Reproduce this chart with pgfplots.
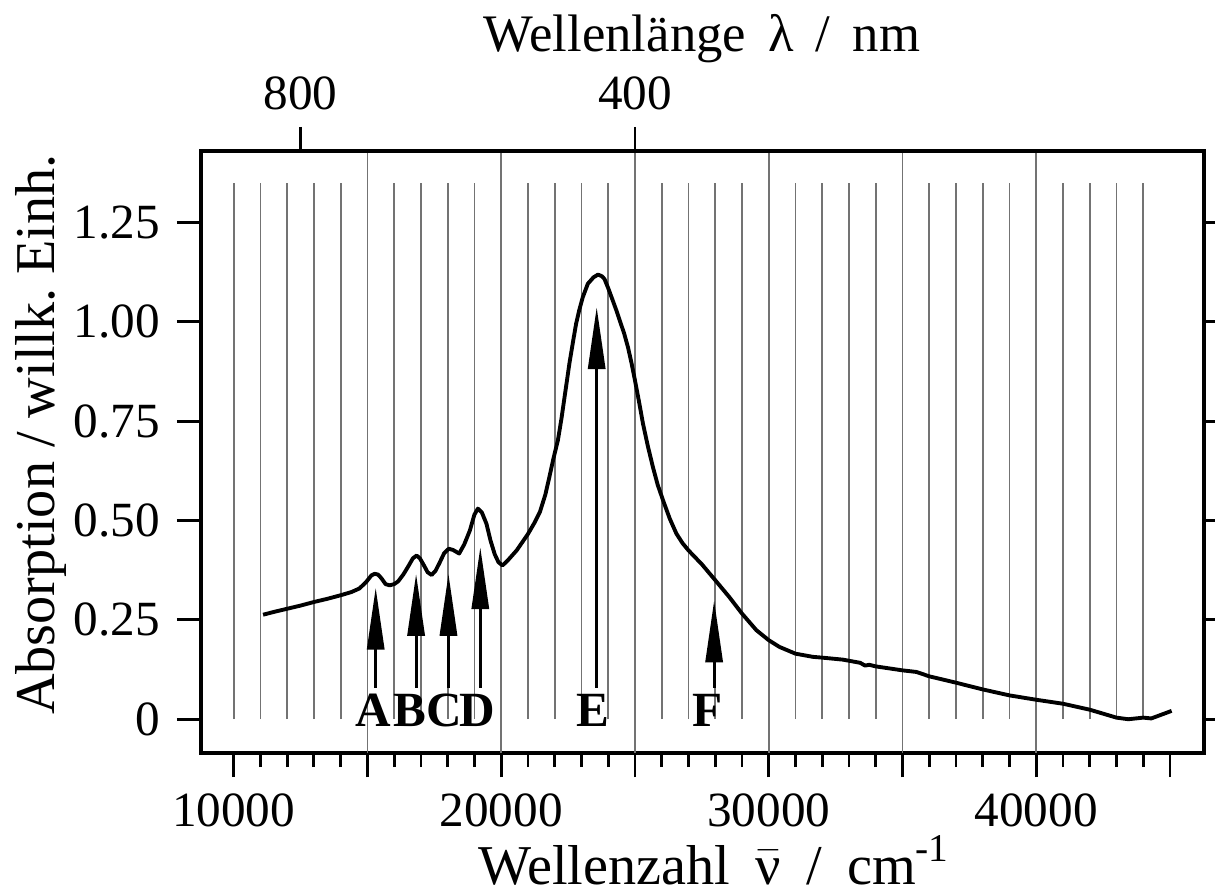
\documentclass[border=0pt]{standalone}
\usepackage{fontspec}
\setmainfont{Liberation Serif}
\usepackage{amsmath}
\usepackage{pgfplots}
\pgfplotsset{compat=1.18}
\usetikzlibrary{arrows.meta}

\pgfplotsset{
  common/.style={
    scale only axis, width=10.03cm, height=6.02cm,
    xmin=8780, xmax=46270, ymin=-0.085, ymax=1.43,
    scaled x ticks=false, scaled y ticks=false,
    tick align=outside,
    axis line style={line width=1.1pt},
    /pgf/number format/assume math mode=true,
    major tick length=0.24cm, minor tick length=0.14cm,
    tick style={line width=0.8pt, black},
  },
}
\newcommand{\gap}{\hspace{0.45em}}

\begin{document}
\fontsize{14}{17}\selectfont
\begin{tikzpicture}
\useasboundingbox (-2.01cm,-1.38cm) rectangle (10.14cm,7.53cm);
\begin{axis}[common,
  xtick={10000,15000,...,45000},
  xticklabels={10000,,20000,,30000,,40000,},
  minor xtick={11000,12000,13000,14000,16000,17000,18000,19000,21000,22000,23000,24000,
               26000,27000,28000,29000,31000,32000,33000,34000,36000,37000,38000,39000,
               41000,42000,43000,44000},
  xtick pos=left, ytick pos=both, yticklabel pos=left,
  ytick={0,0.25,0.5,0.75,1,1.25},
  yticklabels={0,0.25,0.50,0.75,1.00,1.25},
  extra x ticks={15000,20000,25000,30000,35000,40000},
  extra x tick labels={},
  extra x tick style={grid=major},
  major grid style={black!55, line width=0.5pt},
  xlabel={Wellenzahl\gap$\bar{\text{ν}}$\gap/\gap cm\textsuperscript{-1}},
  ylabel={Absorption\ /\ willk.\ Einh.},
  xlabel style={at={(axis description cs:0.512,-0.2176)}, anchor=base, inner sep=0pt,
    font=\fontsize{16}{19}\selectfont},
  ylabel style={at={(axis description cs:-0.1456,0.529)}, anchor=base, inner sep=0pt,
    font=\fontsize{16}{19}\selectfont},
]
% kurze Gitterlinien (0 bis 1.35)
\addplot[ycomb, black!55, line width=0.5pt] coordinates {
  (10000,1.35) (11000,1.35) (12000,1.35) (13000,1.35) (14000,1.35)
  (16000,1.35) (17000,1.35) (18000,1.35) (19000,1.35)
  (21000,1.35) (22000,1.35) (23000,1.35) (24000,1.35)
  (26000,1.35) (27000,1.35) (28000,1.35) (29000,1.35)
  (31000,1.35) (32000,1.35) (33000,1.35) (34000,1.35)
  (36000,1.35) (37000,1.35) (38000,1.35) (39000,1.35)
  (41000,1.35) (42000,1.35) (43000,1.35) (44000,1.35)
};
% Spektrum
\addplot[black, line width=1.1pt, line join=round] coordinates {
  (11100,0.263) (11500,0.270) (12000,0.278) (12500,0.286) (13000,0.295)
  (13500,0.303) (14000,0.312) (14400,0.320) (14700,0.329) (14950,0.345)
  (15150,0.362) (15270,0.366) (15400,0.364) (15520,0.355) (15680,0.340)
  (15830,0.337) (16000,0.340) (16150,0.347) (16350,0.365) (16530,0.385)
  (16700,0.405) (16840,0.412) (16960,0.405) (17090,0.390) (17250,0.370)
  (17400,0.363) (17550,0.374) (17700,0.394) (17870,0.418) (18040,0.429)
  (18200,0.426) (18430,0.417) (18620,0.440) (18830,0.475) (19000,0.515)
  (19130,0.530) (19280,0.520) (19450,0.492) (19600,0.450) (19760,0.415)
  (19900,0.395) (20050,0.387) (20250,0.400) (20580,0.425) (21000,0.466)
  (21250,0.495) (21450,0.522) (21650,0.565) (21800,0.609) (21950,0.655)
  (22120,0.702) (22250,0.755) (22370,0.811) (22550,0.895) (22680,0.948)
  (22800,0.995) (22920,1.030) (23050,1.062) (23240,1.096) (23450,1.112)
  (23620,1.119) (23760,1.115) (23860,1.108) (24000,1.085) (24170,1.054)
  (24300,1.030) (24430,1.004) (24600,0.970) (24740,0.936) (24870,0.897)
  (25000,0.853) (25150,0.800) (25300,0.744) (25480,0.688) (25670,0.635)
  (25850,0.590) (26050,0.551) (26300,0.505) (26550,0.467) (26780,0.443)
  (27000,0.425) (27500,0.390) (28000,0.350) (28520,0.308) (29000,0.266)
  (29540,0.224) (30000,0.199) (30400,0.182) (31000,0.165) (31650,0.157)
  (32000,0.155) (32770,0.150) (33420,0.142) (33600,0.135) (33760,0.137)
  (34000,0.133) (35000,0.123) (35520,0.119) (36000,0.108) (37000,0.092)
  (38000,0.075) (39000,0.060) (40000,0.049) (41000,0.039) (42000,0.024)
  (43000,0.004) (43440,0.000) (44000,0.004) (44300,0.002) (44700,0.012)
  (45060,0.021)
};
% Pfeile
\addplot[black, line width=0.9pt, quiver={u=0, v=\thisrow{v}},
  -{Triangle[length=6.2mm, width=1.7mm]}] table {
x     y     v
15310 0.079 0.252
16820 0.079 0.287
18030 0.079 0.287
19220 0.079 0.354
23570 0.079 0.958
27960 0.079 0.220
};
\begin{scope}[every node/.style={font=\fontsize{14}{16}\selectfont\bfseries, anchor=base}]
\node at (axis cs:15220,-0.019) {A};
\node at (axis cs:16600,-0.019) {B};
\node at (axis cs:17860,-0.019) {C};
\node at (axis cs:19110,-0.019) {D};
\node at (axis cs:23440,-0.019) {E};
\node at (axis cs:27720,-0.019) {F};
\end{scope}
\end{axis}

\begin{axis}[common,
  axis x line*=top, axis y line=none,
  xtick={12500,25000}, xticklabels={800,400},
  xlabel={Wellenlänge\hspace{0.42em}λ\hspace{0.42em}/\hspace{0.42em}nm},
  xlabel style={at={(axis description cs:0.4995,1.1645)}, anchor=base, inner sep=0pt,
    font=\fontsize{15}{18}\selectfont},
]
\addplot[draw=none] coordinates {(10000,0)};
\end{axis}
\end{tikzpicture}
\end{document}
